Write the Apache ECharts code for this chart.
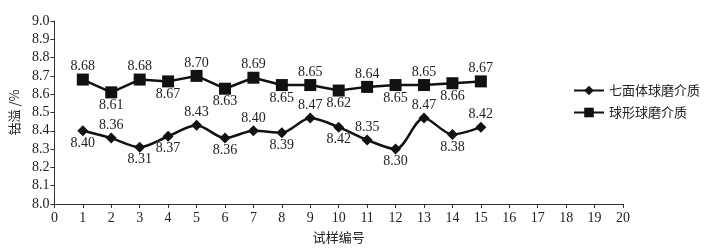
<!DOCTYPE html>
<html>
<head>
<meta charset="utf-8">
<script src="https://cdn.jsdelivr.net/npm/echarts@6/dist/echarts.min.js"></script>
<style>
  html, body { margin: 0; padding: 0; background: #fff; }
  #chart { width: 708px; height: 249px; }
</style>
</head>
<body>
<div id="chart"></div>
<script>
// 试样编号 1..15
var samples = [1, 2, 3, 4, 5, 6, 7, 8, 9, 10, 11, 12, 13, 14, 15]
// 七面体球磨介质
var heptaValues = [8.40, 8.36, 8.31, 8.37, 8.43, 8.36, 8.40, 8.39, 8.47, 8.42, 8.35, 8.30, 8.47, 8.38, 8.42]
var heptaLabelPos = ['bottom', 'top', 'bottom', 'bottom', 'top', 'bottom', 'top', 'bottom', 'top', 'bottom', 'top', 'bottom', 'top', 'bottom', 'top']
// 球形球磨介质
var sphereValues = [8.68, 8.61, 8.68, 8.67, 8.70, 8.63, 8.69, 8.65, 8.65, 8.62, 8.64, 8.65, 8.65, 8.66, 8.67]
var sphereLabelPos = ['top', 'bottom', 'top', 'bottom', 'top', 'bottom', 'top', 'bottom', 'top', 'bottom', 'top', 'bottom', 'top', 'bottom', 'top']

var serif = '"Liberation Serif", "DejaVu Serif", serif'
var cjk = '"Noto Sans CJK SC", sans-serif'

function buildData (values, positions) {
  let out = []
  values.forEach((v, i) => {
    out.push({
      value: [samples[i], v],
      label: { position: positions[i] }
    })
  })
  return out
}

var myChart = echarts.init(document.getElementById('chart'))
var option = {
  backgroundColor: '#fff',
  animation: false,
  grid: {
    left: 51,
    right: 85,
    top: 21,
    bottom: 39,
    containLabel: false
  },
  legend: {
    orient: 'vertical',
    left: 568,
    top: 79,
    itemWidth: 30,
    itemHeight: 12,
    itemGap: 9,
    textStyle: {
      fontFamily: cjk,
      fontSize: 13,
      color: '#222'
    },
    data: ['七面体球磨介质', '球形球磨介质']
  },
  xAxis: {
    type: 'value',
    min: 0,
    max: 20,
    interval: 1,
    name: '试样编号',
    nameLocation: 'middle',
    nameGap: 27,
    nameTextStyle: { fontFamily: cjk, fontSize: 13, color: '#222' },
    splitLine: { show: false },
    axisLine: { lineStyle: { color: '#333', width: 1 } },
    axisTick: { length: 4, lineStyle: { color: '#333' } },
    axisLabel: { fontFamily: serif, fontSize: 14, color: '#222', margin: 7 }
  },
  yAxis: {
    type: 'value',
    min: 8.0,
    max: 9.0,
    interval: 0.1,
    name: '钴溢 /%',
    nameLocation: 'middle',
    nameGap: 30,
    nameRotate: 90,
    nameTextStyle: { fontFamily: cjk, fontSize: 13, color: '#222' },
    splitLine: { show: false },
    axisLine: { show: true, lineStyle: { color: '#333', width: 1 } },
    axisTick: { show: true, length: 4, lineStyle: { color: '#333' } },
    axisLabel: {
      fontFamily: serif,
      fontSize: 14,
      color: '#222',
      margin: 5,
      formatter: function (v) { return v.toFixed(1) }
    }
  },
  series: [
    {
      name: '七面体球磨介质',
      type: 'line',
      smooth: 0.3,
      symbol: 'diamond',
      symbolSize: 11,
      itemStyle: { color: '#111' },
      lineStyle: { color: '#111', width: 2.5 },
      label: {
        show: true,
        distance: 0,
        fontFamily: serif,
        fontSize: 14,
        color: '#222',
        formatter: function (p) { return p.value[1].toFixed(2) }
      },
      data: buildData(heptaValues, heptaLabelPos)
    },
    {
      name: '球形球磨介质',
      type: 'line',
      symbol: 'rect',
      symbolSize: 12,
      itemStyle: { color: '#111' },
      lineStyle: { color: '#111', width: 2.5 },
      label: {
        show: true,
        distance: 0,
        fontFamily: serif,
        fontSize: 14,
        color: '#222',
        formatter: function (p) { return p.value[1].toFixed(2) }
      },
      data: buildData(sphereValues, sphereLabelPos)
    }
  ]
}
myChart.setOption(option, true)
</script>
</body>
</html>
